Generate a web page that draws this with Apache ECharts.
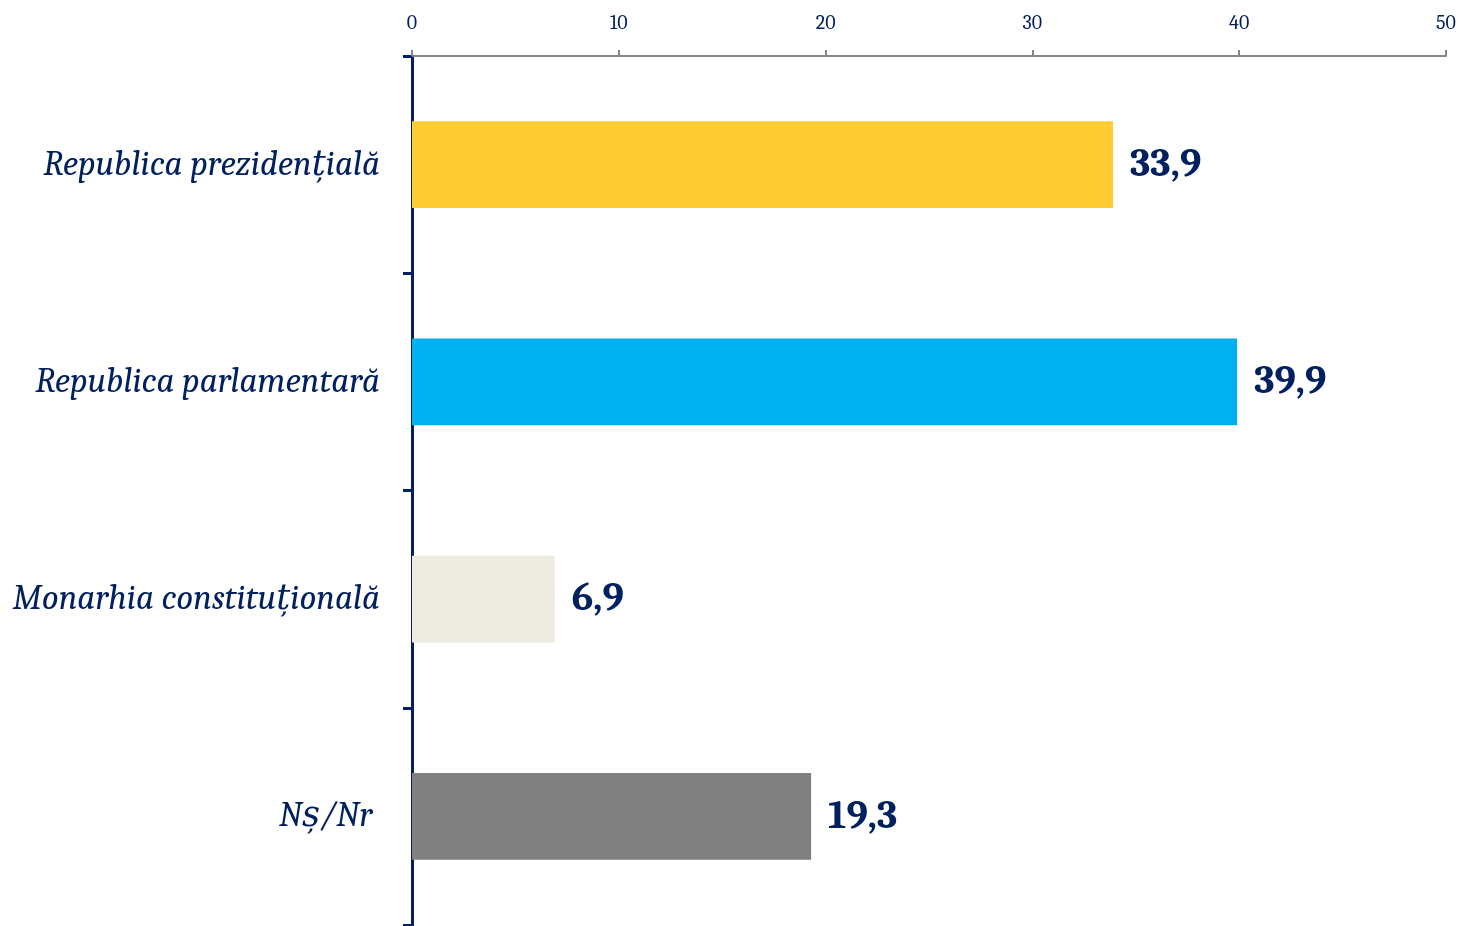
<!DOCTYPE html>
<html>
<head>
<meta charset="utf-8">
<script src="https://cdn.jsdelivr.net/npm/echarts@6/dist/echarts.min.js"></script>
<style>
  html, body { margin: 0; padding: 0; background: #fff; }
  #chart { width: 1462px; height: 926px; }
</style>
</head>
<body>
<div id="chart"></div>
<script>
var categories = ['Republica prezidențială', 'Republica parlamentară', 'Monarhia constituțională', 'Nș/Nr '];
var values = [33.9, 39.9, 6.9, 19.3];
var barColors = ['#FFCC33', '#00B0F0', '#EEECE1', '#808080'];
var xTicks = [0, 10, 20, 30, 40, 50];

var navy = '#002060';
var font = 'Cambria, Caladea, "DejaVu Serif", serif';

var myChart = echarts.init(document.getElementById('chart'));
var option = {
	animation : false,
	grid : {
		left : 412,
		right : 16,
		top : 56,
		bottom : 1,
		containLabel : false
	},
	xAxis : {
		type : 'value',
		position : 'top',
		min : xTicks[0],
		max : xTicks[xTicks.length - 1],
		interval : 10,
		splitLine : { show : false },
		axisLine : { show : true, lineStyle : { color : '#868686', width : 2 } },
		axisTick : { show : true, inside : false, length : 6, lineStyle : { color : '#868686', width : 2 } },
		axisLabel : { color : navy, fontFamily : font, fontSize : 20, margin : 23 }
	},
	yAxis : {
		type : 'category',
		inverse : true,
		data : categories,
		axisLine : { show : true, lineStyle : { color : navy, width : 3 } },
		axisTick : { show : true, length : 9, lineStyle : { color : navy, width : 3 } },
		axisLabel : {
			color : navy, fontFamily : font, fontStyle : 'italic', fontSize : 35, margin : 32
		}
	},
	series : [ {
		type : 'bar',
		barCategoryGap : '60%',
		data : values.map(function (v, i) {
			return { value : v, itemStyle : { color : barColors[i] } };
		}),
		label : {
			show : true,
			position : 'right',
			distance : 17,
			color : navy,
			fontFamily : font,
			fontWeight : 'bold',
			fontSize : 40,
			formatter : function (p) { return String(p.value).replace('.', ','); }
		}
	} ]
};
myChart.setOption(option);
</script>
</body>
</html>
